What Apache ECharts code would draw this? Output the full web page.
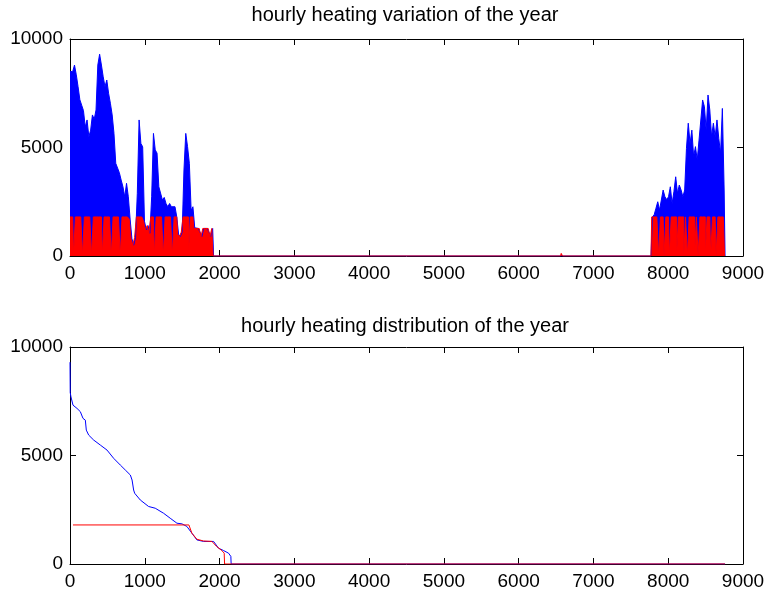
<!DOCTYPE html>
<html>
<head>
<meta charset="utf-8">
<title>hourly heating</title>
<script src="https://cdn.jsdelivr.net/npm/echarts@6/dist/echarts.min.js"></script>
<style>
  html, body { margin: 0; padding: 0; background: #fff; }
  #chart { width: 768px; height: 594px; }
</style>
</head>
<body>
<div id="chart"></div>
<script>
// tick labels
const xTicks = [0, 1000, 2000, 3000, 4000, 5000, 6000, 7000, 8000, 9000];
const yTicks = [0, 5000, 10000];

// heating season 1, one value per day starting at day 0
const season1Day = 0;
const blueSeason1 = [
  8500, 8500, 8800, 8350, 7800, 7200, 6950, 6700, 5950, 6270,
  5500, 5800, 6500, 6300, 6730, 8800, 9300, 8800, 8260, 7800,
  8110, 7500, 7040, 6500, 5650, 4270, 4200, 3840, 3500, 3190,
  2730, 3350, 2730, 1700, 800, 500, 850, 2880, 6270, 5190,
  5030, 1600, 1200, 1400, 1050, 2730, 5650, 4890, 4740, 3190,
  3270, 2580, 2700, 2420, 2270, 2420, 2270, 2270, 2270, 1800,
  1000, 900, 1100, 3960, 5650, 5040, 4270, 2110, 2270, 1300,
  1270, 1270, 1270, 900, 1270, 1270, 1270, 1270, 900, 1270
];
const redSeason1 = [
  1800, 1800, 0, 1800, 1800, 1800, 1800, 0, 1800, 1800,
  1800, 1800, 0, 1800, 1800, 1800, 1800, 1800, 0, 1800,
  1800, 1800, 1800, 0, 1800, 1800, 1800, 1800, 0, 1800,
  1800, 1800, 1800, 1700, 800, 500, 850, 1800, 1800, 1800,
  1800, 1600, 1200, 1400, 1050, 1800, 1800, 0, 1800, 1800,
  1800, 1800, 0, 1800, 1800, 1800, 1800, 0, 1800, 1800,
  1000, 900, 1100, 1800, 1800, 1800, 0, 1800, 1800, 1270,
  1270, 1270, 1270, 900, 1270, 1270, 1270, 1270, 900, 1270
];

// heating season 2, one value per day starting at day 324
const season2Day = 324;
const blueSeason2 = [
  1800, 1900, 2200, 2500, 2120, 2200, 3040, 2730, 2600, 2730,
  3190, 2420, 2960, 3650, 2890, 3270, 3040, 2730, 3040, 4960,
  6120, 5190, 5800, 4580, 5040, 4420, 5340, 5420, 7190, 6880,
  5800, 7420, 6730, 5500, 6120, 5500, 6270, 5420, 4730, 6800, 3040
];
const redSeason2 = [
  1800, 1800, 1800, 1800, 0, 1800, 1800, 0, 1800, 1800,
  0, 1800, 1800, 1800, 0, 1800, 1800, 1800, 0, 1800,
  0, 1800, 1800, 1800, 0, 1800, 0, 1800, 1800, 1800,
  0, 1800, 1800, 0, 1800, 1800, 0, 1800, 1800, 1800, 1800
];

// off season (hour, value)
const offHoursBlue = [1920, 7770];
const offBlue = [0, 0];
const offHoursRed = [1920, 6560, 6578, 6596, 7770];
const offRed = [0, 0, 120, 0, 0];
const yearEnd = 8760;

// sorted (duration) curves
const durHoursBlue = [0, 3, 13, 40, 94, 138, 174, 205, 218, 250, 317, 406, 495, 584, 673, 740,
  807, 830, 851, 865, 940, 1051, 1140, 1251, 1340, 1430, 1497, 1563, 1630, 1697, 1786, 1920,
  1986, 2053, 2120, 2151, 2155, 8760];
const durBlue = [9300, 7900, 7700, 7320, 7170, 7020, 6710, 6630, 6170, 5940, 5710, 5480, 5250, 4870, 4560, 4330,
  4100, 3870, 3410, 3260, 2950, 2650, 2570, 2340, 2110, 1880, 1850, 1730, 1420, 1110, 1040, 1040,
  730, 620, 500, 350, 0, 0];
const durHoursRed = [40, 1590, 1630, 1697, 1786, 1898, 1960, 2030, 2062, 2067, 8760];
const durRed = [1800, 1800, 1420, 1140, 1060, 1040, 810, 620, 500, 0, 0];

function dayPoints(startDay, values) {
  return values.map((v, i) => [(startDay + i) * 24 + 12, v]);
}
function zip(xs, ys) {
  return xs.map((x, i) => [x, ys[i]]);
}

const bluePts = [[0, blueSeason1[0]]]
  .concat(dayPoints(season1Day, blueSeason1), zip(offHoursBlue, offBlue),
          dayPoints(season2Day, blueSeason2), [[yearEnd, 0]]);
const redPts = [[0, redSeason1[0]]]
  .concat(dayPoints(season1Day, redSeason1), zip(offHoursRed, offRed),
          dayPoints(season2Day, redSeason2), [[yearEnd, 0]]);

const font = 'Liberation Sans, Arial, Helvetica, sans-serif';

function xAxes(grid) {
  const base = {
    type: 'value', gridIndex: grid,
    min: xTicks[0], max: xTicks[xTicks.length - 1], interval: xTicks[1] - xTicks[0],
    splitLine: { show: false },
    axisLine: { show: true, onZero: false, lineStyle: { color: '#000', width: 1 } },
    axisTick: { show: true, inside: true, length: 6, lineStyle: { color: '#000' } }
  };
  return [
    Object.assign({}, base, {
      position: 'bottom',
      axisLabel: { show: true, margin: 8, color: '#000', fontSize: 19, fontFamily: font,
                   formatter: v => String(v) }
    }),
    Object.assign({}, base, { position: 'top', axisLabel: { show: false } })
  ];
}
function yAxes(grid) {
  const base = {
    type: 'value', gridIndex: grid,
    min: yTicks[0], max: yTicks[yTicks.length - 1], interval: yTicks[1] - yTicks[0],
    splitLine: { show: false },
    axisLine: { show: true, onZero: false, lineStyle: { color: '#000', width: 1 } },
    axisTick: { show: true, inside: true, length: 6, lineStyle: { color: '#000' } }
  };
  return [
    Object.assign({}, base, {
      position: 'left',
      axisLabel: { show: true, margin: 7, color: '#000', fontSize: 19, fontFamily: font,
                   formatter: v => String(v) }
    }),
    Object.assign({}, base, { position: 'right', axisLabel: { show: false } })
  ];
}

const chart = echarts.init(document.getElementById('chart'), null, { renderer: 'canvas' });
chart.setOption({
  backgroundColor: '#fff',
  animation: false,
  graphic: [
    { type: 'text', x: 405, y: 15,
      style: { text: 'hourly heating variation of the year', fill: '#000',
               font: '20px ' + font, textAlign: 'center', textVerticalAlign: 'middle' } },
    { type: 'text', x: 405, y: 326,
      style: { text: 'hourly heating distribution of the year', fill: '#000',
               font: '20px ' + font, textAlign: 'center', textVerticalAlign: 'middle' } }
  ],
  grid: [
    { left: 70, right: 25, top: 39, height: 217 },
    { left: 70, right: 25, top: 347, height: 217 }
  ],
  xAxis: xAxes(0).concat(xAxes(1)),
  yAxis: yAxes(0).concat(yAxes(1)),
  series: [
    {
      name: 'demand', type: 'line', xAxisIndex: 0, yAxisIndex: 0,
      data: bluePts, showSymbol: false, symbol: 'none',
      lineStyle: { color: '#0000ff', width: 1 },
      areaStyle: { color: '#0000ff', opacity: 1 }
    },
    {
      name: 'supply', type: 'line', xAxisIndex: 0, yAxisIndex: 0,
      data: redPts, step: 'middle', showSymbol: false, symbol: 'none',
      lineStyle: { color: '#ff0000', width: 1 },
      areaStyle: { color: '#ff0000', opacity: 1 }
    },
    {
      name: 'demand sorted', type: 'line', xAxisIndex: 2, yAxisIndex: 2,
      data: zip(durHoursBlue, durBlue), showSymbol: false, symbol: 'none',
      lineStyle: { color: '#0000ff', width: 1 }
    },
    {
      name: 'supply sorted', type: 'line', xAxisIndex: 2, yAxisIndex: 2,
      data: zip(durHoursRed, durRed), showSymbol: false, symbol: 'none',
      lineStyle: { color: '#ff0000', width: 1 }
    }
  ]
});
</script>
</body>
</html>
